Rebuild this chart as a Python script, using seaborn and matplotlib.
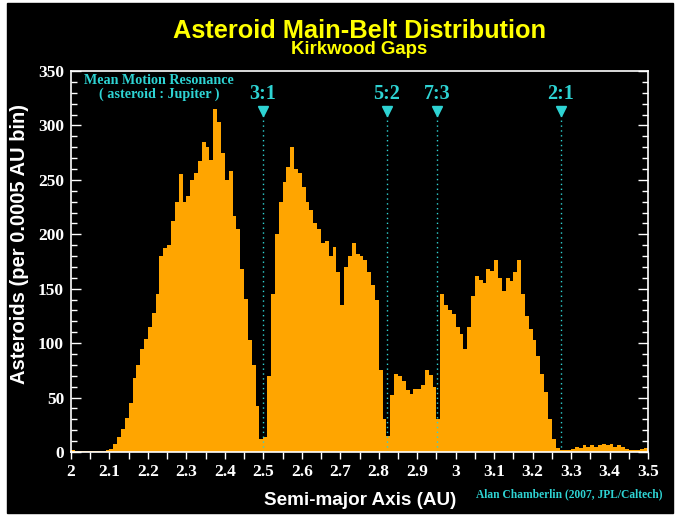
"""
Asteroid main-belt distribution with the Kirkwood gaps
(histogram of semi-major axes, read off the reference chart)
"""

import numpy as np
import pandas as pd
import seaborn as sns
import matplotlib.pyplot as plt
from matplotlib.patches import Rectangle
from matplotlib.ticker import MultipleLocator, FuncFormatter

# -------------------------------
# Data (counts per bin, 2.00 - 3.50 AU, one row per 0.1 AU)
# -------------------------------
bin_start = 2.0
bin_end = 3.5
bin_width = 0.01

counts_20 = [2, 1, 1, 1, 1, 1, 1, 1, 1, 2]
counts_21 = [3, 7, 14, 21, 31, 45, 68, 80, 95, 104]
counts_22 = [115, 128, 145, 180, 187, 190, 212, 230, 255, 230]
counts_23 = [235, 250, 256, 267, 285, 280, 268, 315, 303, 275]
counts_24 = [250, 258, 217, 205, 168, 141, 103, 80, 42, 12]
counts_25 = [14, 70, 145, 200, 230, 248, 262, 280, 260, 256]
counts_26 = [243, 230, 222, 210, 205, 192, 194, 180, 188, 165]
counts_27 = [135, 170, 180, 192, 182, 180, 176, 165, 153, 140]
counts_28 = [75, 30, 15, 52, 72, 70, 65, 57, 53, 58]
counts_29 = [58, 62, 75, 71, 60, 30, 145, 135, 130, 127]
counts_30 = [115, 108, 95, 115, 143, 162, 158, 155, 168, 166]
counts_31 = [176, 160, 148, 160, 157, 165, 176, 145, 125, 113]
counts_32 = [103, 88, 72, 55, 30, 12, 4, 2, 2, 2]
counts_33 = [3, 5, 4, 6, 5, 6, 5, 6, 7, 6]
counts_34 = [7, 5, 6, 5, 3, 2, 2, 2, 3, 4]

resonance_labels = ["3:1", "5:2", "7:3", "2:1"]
resonance_axis = [2.498, 2.821, 2.952, 3.273]

counts = (counts_20 + counts_21 + counts_22 + counts_23 + counts_24
          + counts_25 + counts_26 + counts_27 + counts_28 + counts_29
          + counts_30 + counts_31 + counts_32 + counts_33 + counts_34)
centers = bin_start + bin_width * (np.arange(len(counts)) + 0.5)
df = pd.DataFrame({"a": centers, "n": counts})

# -------------------------------
# Style
# -------------------------------
orange = "#FFA500"
cyan = "#2ED3D3"
serif = ["Liberation Serif", "DejaVu Serif"]
sans = ["Liberation Sans", "DejaVu Sans"]

fig = plt.figure(figsize=(6.79, 5.21), dpi=100)
fig.patch.set_facecolor("white")
fig.add_artist(Rectangle((7 / 679, 8 / 521), 666 / 679, 510 / 521,
                         transform=fig.transFigure, color="black", zorder=-5))

ax = fig.add_axes([71 / 679, 69 / 521, 577 / 679, 381 / 521])
ax.set_facecolor("black")

# -------------------------------
# Histogram
# -------------------------------
sns.histplot(data=df, x="a", weights="n", binwidth=bin_width,
             binrange=(bin_start, bin_end), element="step",
             fill=True, color=orange, alpha=1, linewidth=0, ax=ax)

ax.set_xlim(bin_start, bin_end)
ax.set_ylim(0, 350)

# resonance markers
for lab, a in zip(resonance_labels, resonance_axis):
    ax.plot([a, a], [0, 310], ls=(0, (1, 2.5)), color=cyan, lw=1)
    ax.plot(a, 313, marker="v", ms=7, color=cyan, mec=cyan)
    ax.text(a, 329, lab, color=cyan, ha="center", va="center",
            fontsize=14.5, fontweight="bold", family=serif)

ax.text(2.229, 347, "Mean Motion Resonance\n( asteroid : Jupiter )",
        color=cyan, ha="center", va="top", fontsize=10.2,
        fontweight="bold", family=serif, linespacing=1.05)

# axes, ticks
for s in ax.spines.values():
    s.set_color("white")
    s.set_linewidth(1.2)

ax.xaxis.set_major_locator(MultipleLocator(0.1))
ax.xaxis.set_minor_locator(MultipleLocator(0.05))
ax.xaxis.set_major_formatter(FuncFormatter(lambda v, p: f"{v:g}"))
ax.yaxis.set_major_locator(MultipleLocator(50))
ax.yaxis.set_minor_locator(MultipleLocator(10))

ax.tick_params(axis="y", which="both", direction="in", left=True, right=True,
               color="white", labelcolor="white", width=1)
ax.tick_params(axis="y", which="major", length=7.5, pad=5)
ax.tick_params(axis="y", which="minor", length=4.5)
ax.tick_params(axis="x", which="both", direction="out", top=False,
               color="white", labelcolor="white", width=1, length=5)
ax.tick_params(axis="x", which="major", pad=4)

for t in ax.get_xticklabels() + ax.get_yticklabels():
    t.set_fontfamily(serif)
    t.set_fontweight("bold")
    t.set_fontsize(12.5)

ax.set_xlabel("Semi-major Axis (AU)", color="white", fontsize=13.6,
              fontweight="bold", family=sans)
ax.set_ylabel("Asteroids (per 0.0005 AU bin)", color="white", fontsize=14.5,
              fontweight="bold", family=sans)
ax.xaxis.set_label_coords(0.501, -0.104)
ax.yaxis.set_label_coords(-0.073, 0.545)

# titles and credit
fig.text(360 / 679, 1 - 38.5 / 521, "Asteroid Main-Belt Distribution",
         color="#FFFF00", ha="center", va="baseline", fontsize=18.3,
         fontweight="bold", family=sans)
fig.text(359.5 / 679, 1 - 53.5 / 521, "Kirkwood Gaps", color="#FFFF00",
         ha="center", va="baseline", fontsize=13.4, fontweight="bold",
         family=sans)
fig.text(663 / 679, 1 - 494 / 521, "Alan Chamberlin (2007, JPL/Caltech)",
         color=cyan, ha="right", va="center", fontsize=8.3,
         fontweight="bold", family=serif)

plt.savefig("out.png", dpi=100, facecolor=fig.get_facecolor())
